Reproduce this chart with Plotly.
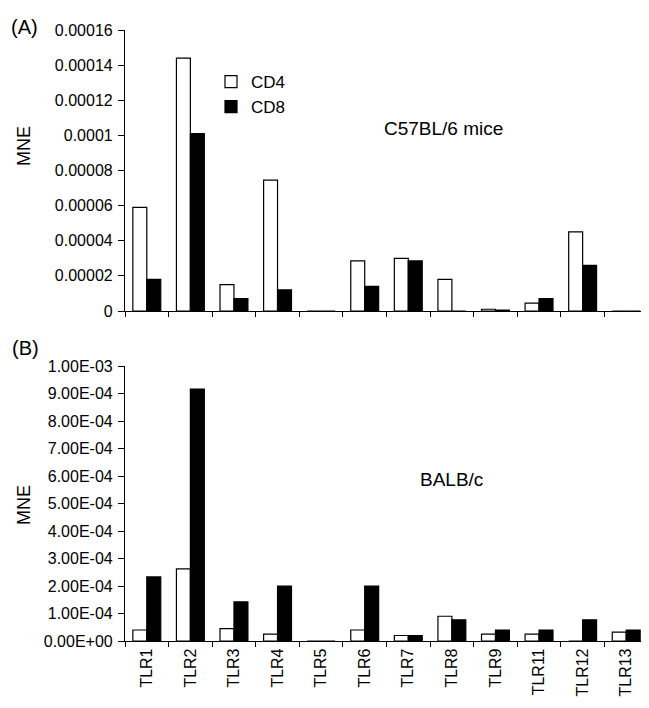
import plotly.graph_objects as go
from plotly.subplots import make_subplots

categories = ["TLR1", "TLR2", "TLR3", "TLR4", "TLR5", "TLR6", "TLR7", "TLR8", "TLR9", "TLR11", "TLR12", "TLR13"]

# Panel A: C57BL/6 mice
a_cd4 = [5.9e-5, 1.44e-4, 1.5e-5, 7.45e-5, 0, 2.85e-5, 3.0e-5, 1.8e-5, 1.0e-6, 4.5e-6, 4.5e-5, 0]
a_cd8 = [1.8e-5, 1.01e-4, 7.0e-6, 1.2e-5, 0, 1.4e-5, 2.85e-5, 0, 5e-7, 7.0e-6, 2.6e-5, 0]

# Panel B: BALB/c
b_cd4 = [4.0e-5, 2.62e-4, 4.5e-5, 2.5e-5, 0, 4.0e-5, 2.0e-5, 9.0e-5, 2.5e-5, 2.5e-5, 0, 3.2e-5]
b_cd8 = [2.33e-4, 9.16e-4, 1.42e-4, 2.0e-4, 0, 2.0e-4, 2.0e-5, 7.7e-5, 4.0e-5, 4.0e-5, 7.7e-5, 4.0e-5]

a_tickvals = [0, 2e-5, 4e-5, 6e-5, 8e-5, 1e-4, 1.2e-4, 1.4e-4, 1.6e-4]
a_ticktext = ["0", "0.00002", "0.00004", "0.00006", "0.00008", "0.0001", "0.00012", "0.00014", "0.00016"]
b_tickvals = [0, 1e-4, 2e-4, 3e-4, 4e-4, 5e-4, 6e-4, 7e-4, 8e-4, 9e-4, 1e-3]
b_ticktext = ["0.00E+00", "1.00E-04", "2.00E-04", "3.00E-04", "4.00E-04", "5.00E-04",
              "6.00E-04", "7.00E-04", "8.00E-04", "9.00E-04", "1.00E-03"]

FONT = "Arial, Liberation Sans, sans-serif"

fig = make_subplots(rows=2, cols=1, vertical_spacing=0.09)

white = dict(color="white", line=dict(color="black", width=1.2))
black = dict(color="black", line=dict(color="black", width=1.2))

fig.add_trace(go.Bar(x=categories, y=a_cd4, name="CD4", marker=white, showlegend=True), row=1, col=1)
fig.add_trace(go.Bar(x=categories, y=a_cd8, name="CD8", marker=black, showlegend=True), row=1, col=1)
fig.add_trace(go.Bar(x=categories, y=b_cd4, name="CD4", marker=white, showlegend=False), row=2, col=1)
fig.add_trace(go.Bar(x=categories, y=b_cd8, name="CD8", marker=black, showlegend=False), row=2, col=1)

L, R, T, B = 117, 9, 22, 75
W, H = 649, 708
ph = H - T - B
pw = W - L - R

def py(p):
    return (H - B - p) / ph

def px(p):
    return (p - L) / pw

fig.update_layout(
    width=W, height=H,
    margin=dict(l=L, r=R, t=T, b=B),
    paper_bgcolor="white", plot_bgcolor="white",
    font=dict(family=FONT, size=16, color="black"),
    barmode="group", bargap=0.36, bargroupgap=0,
    legend=dict(x=px(203), y=py(56), xanchor="left", yanchor="top",
                bgcolor="rgba(0,0,0,0)", font=dict(size=17, family=FONT),
                tracegroupgap=0, itemclick=False),
)

fig.update_layout(
    yaxis=dict(domain=[py(303), 1.0]),
    yaxis2=dict(domain=[0, py(358)]),
)

common_x = dict(showline=True, linecolor="black", linewidth=1.2, ticks="outside", ticklen=5,
                tickcolor="black", tickson="boundaries", showgrid=False, zeroline=False,
                mirror=False)
fig.update_xaxes(**common_x, showticklabels=False, row=1, col=1)
fig.update_xaxes(**common_x, showticklabels=True, tickangle=-90,
                 tickfont=dict(size=16, family=FONT), row=2, col=1)

common_y = dict(showline=True, linecolor="black", linewidth=1.2, ticks="outside", ticklen=6,
                tickcolor="black", showgrid=False, zeroline=False, ticklabelstandoff=2,
                tickfont=dict(size=16, family=FONT))
fig.update_yaxes(**common_y, range=[0, 1.6e-4], tickmode="array", tickvals=a_tickvals,
                 ticktext=a_ticktext, row=1, col=1)
fig.update_yaxes(**common_y, range=[0, 1e-3], tickmode="array", tickvals=b_tickvals,
                 ticktext=b_ticktext, row=2, col=1)

ann = [
    dict(text="(A)", x=px(16), y=py(19), size=20, angle=0),
    dict(text="(B)", x=px(17), y=py(340), size=20, angle=0),
    dict(text="MNE", x=px(16), y=py(138), size=18, angle=-90),
    dict(text="MNE", x=px(16), y=py(497), size=18, angle=-90),
    dict(text="C57BL/6 mice", x=px(435), y=py(121), size=19, angle=0),
    dict(text="BALB/c", x=px(443), y=py(471), size=19, angle=0),
]
for a in ann:
    fig.add_annotation(text=a["text"], x=a["x"], y=a["y"], xref="paper", yref="paper",
                       xanchor="center", yanchor="middle", showarrow=False,
                       textangle=a["angle"], font=dict(size=a["size"], family=FONT, color="black"))

fig.write_html("out.html")
